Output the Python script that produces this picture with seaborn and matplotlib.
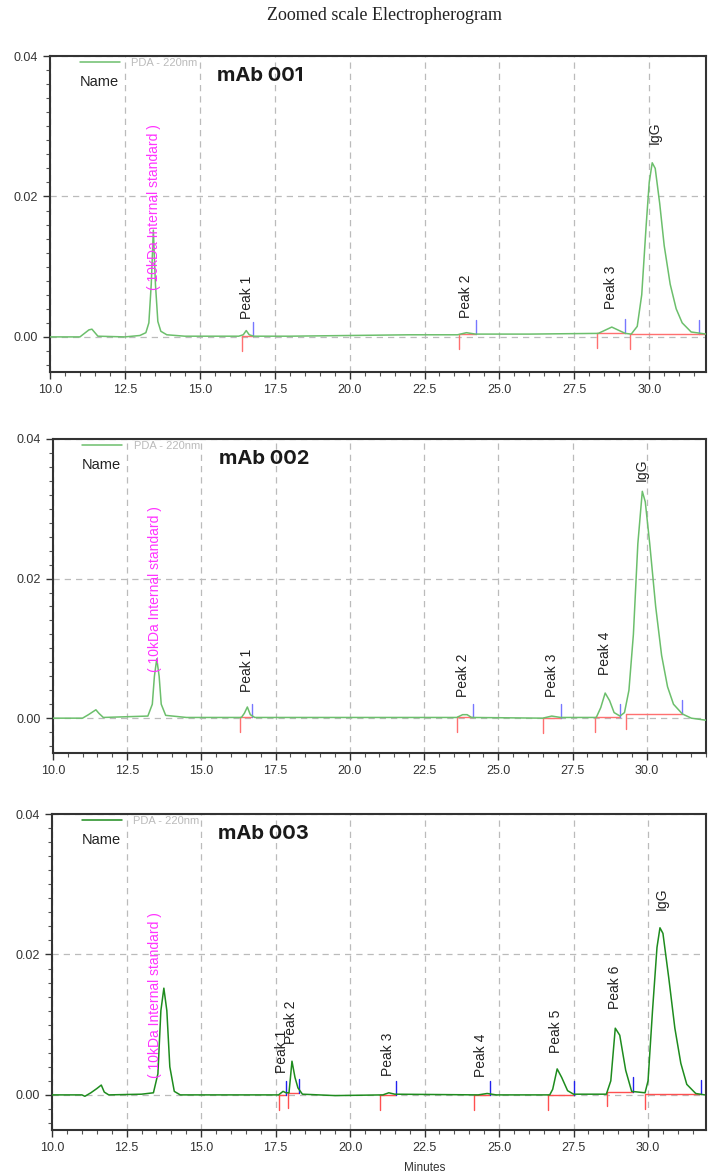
import numpy as np
import seaborn as sns
import matplotlib.pyplot as plt
from matplotlib.ticker import MultipleLocator, FixedLocator

# ---- data (minutes, AU) ----
samples = ["mAb 001", "mAb 002", "mAb 003"]

t_001 = [10.0, 11.0, 11.15, 11.3, 11.4, 11.5, 11.6, 12.5, 13.0, 13.2, 13.3, 13.38, 13.45, 13.52,
         13.6, 13.7, 13.9, 14.5, 16.3, 16.45, 16.55, 16.65, 16.8, 18.0, 20.0, 22.0, 23.6, 23.9,
         24.2, 26.0, 28.3, 28.6, 28.75, 28.9, 29.2, 29.4, 29.6, 29.75, 29.9, 30.0, 30.1, 30.2,
         30.35, 30.5, 30.7, 30.9, 31.1, 31.4, 31.9]
a_001 = [0.0, 0.0, 0.0005, 0.001, 0.0011, 0.0006, 0.0001, 0.0, 0.0002, 0.0006, 0.002, 0.0075,
         0.0152, 0.0075, 0.0022, 0.0008, 0.0003, 0.0001, 0.0001, 0.0003, 0.0009, 0.0003, 0.0001,
         0.0001, 0.0002, 0.0003, 0.0003, 0.0006, 0.0004, 0.0004, 0.0005, 0.0011, 0.0014, 0.0011,
         0.0005, 0.0004, 0.0015, 0.006, 0.016, 0.022, 0.0248, 0.024, 0.019, 0.013, 0.0075, 0.004,
         0.002, 0.0007, 0.0004]

t_002 = [10.0, 11.0, 11.2, 11.45, 11.55, 11.7, 13.2, 13.35, 13.42, 13.5, 13.58, 13.65, 13.8,
         14.5, 16.35, 16.45, 16.55, 16.65, 16.8, 20.0, 23.6, 23.8, 23.95, 24.1, 26.5, 26.8, 27.1,
         28.3, 28.45, 28.6, 28.75, 28.9, 29.1, 29.25, 29.4, 29.55, 29.7, 29.85, 29.95, 30.1,
         30.3, 30.5, 30.7, 30.9, 31.2, 31.5, 32.0]
a_002 = [0.0, 0.0, 0.0005, 0.0012, 0.0007, 0.0001, 0.0003, 0.002, 0.006, 0.0085, 0.006, 0.002,
         0.0004, 0.0001, 0.0001, 0.0007, 0.0016, 0.0005, 0.0001, 0.0001, 0.0001, 0.0005, 0.0005,
         0.0001, 0.0, 0.0003, 0.0001, 0.0001, 0.0015, 0.0036, 0.0025, 0.0008, 0.0003, 0.0008,
         0.004, 0.012, 0.025, 0.0325, 0.031, 0.025, 0.016, 0.009, 0.0045, 0.002, 0.0006, 0.0,
         -0.0003]

t_003 = [10.0, 11.0, 11.1, 11.3, 11.5, 11.65, 11.75, 11.9, 13.0, 13.4, 13.55, 13.65, 13.75,
         13.85, 13.95, 14.1, 14.3, 17.6, 17.75, 17.85, 17.95, 18.05, 18.15, 18.25, 18.4, 19.5,
         21.1, 21.3, 21.5, 24.3, 24.6, 24.9, 26.7, 26.8, 26.95, 27.1, 27.3, 27.5, 28.6, 28.75,
         28.9, 29.05, 29.25, 29.45, 29.9, 30.0, 30.15, 30.3, 30.4, 30.5, 30.7, 30.9, 31.1, 31.3,
         31.6, 31.9]
a_003 = [0.0, 0.0, -0.0002, 0.0003, 0.0009, 0.0014, 0.0004, 0.0, 0.0001, 0.0003, 0.003, 0.012,
         0.0152, 0.012, 0.004, 0.0005, 0.0, 0.0, 0.0005, 0.0003, 0.0003, 0.0048, 0.0025, 0.001,
         0.0001, -0.0001, 0.0, 0.0003, 0.0001, 0.0, 0.0002, 0.0, 0.0, 0.0008, 0.0037, 0.0025,
         0.0006, 0.0001, 0.0001, 0.002, 0.0095, 0.0085, 0.0035, 0.0005, 0.0003, 0.002, 0.012,
         0.021, 0.0238, 0.023, 0.0165, 0.0095, 0.0045, 0.0015, 0.0002, 0.0]

# integration start (red) / end (blue) marks
starts_001 = [16.4, 23.65, 28.25, 29.35]
ends_001 = [16.77, 24.22, 29.2, 31.65]
starts_002 = [16.3, 23.6, 26.5, 28.25, 29.3]
ends_002 = [16.7, 24.15, 27.1, 29.1, 31.2]
starts_003 = [17.6, 17.9, 21.0, 24.15, 26.65, 28.63, 29.9]
ends_003 = [17.86, 18.3, 21.55, 24.7, 27.5, 29.5, 31.77]

# peak labels: name, retention time, label base height
names_001 = ["Peak 1", "Peak 2", "Peak 3", "IgG"]
lab_t_001 = [16.57, 23.9, 28.73, 30.17]
lab_y_001 = [0.0025, 0.0027, 0.004, 0.0275]
names_002 = ["Peak 1", "Peak 2", "Peak 3", "Peak 4", "IgG"]
lab_t_002 = [16.55, 23.8, 26.8, 28.6, 29.83]
lab_y_002 = [0.0037, 0.003, 0.003, 0.0062, 0.034]
names_003 = ["Peak 1", "Peak 2", "Peak 3", "Peak 4", "Peak 5", "Peak 6", "IgG"]
lab_t_003 = [17.73, 18.03, 21.27, 24.4, 26.92, 28.9, 30.45]
lab_y_003 = [0.0031, 0.0072, 0.0027, 0.0025, 0.006, 0.0122, 0.0264]
std_t = [13.47, 13.45, 13.45]
std_y = [0.0067, 0.0066, 0.0024]

traces = [(t_001, a_001), (t_002, a_002), (t_003, a_003)]
starts = [starts_001, starts_002, starts_003]
ends = [ends_001, ends_002, ends_003]
names = [names_001, names_002, names_003]
lab_t = [lab_t_001, lab_t_002, lab_t_003]
lab_y = [lab_y_001, lab_y_002, lab_y_003]

line_col = ["#6cbf6c", "#6cbf6c", "#1e8c1e"]
red_col = ["#ff7070", "#ff7070", "#ff5050"]
blue_col = ["#7777ff", "#7777ff", "#2222ee"]

sns.set_style("white")
plt.rcParams['font.family'] = ['Liberation Sans', 'DejaVu Sans']

fig = plt.figure(figsize=(7.14, 11.75), dpi=100)
boxes = [[0.070, 0.6834, 0.919, 0.2689],
         [0.074, 0.3591, 0.915, 0.2673],
         [0.073, 0.0383, 0.916, 0.2689]]
xmax = [31.9, 32.0, 31.95]

for i in range(3):
    ax = fig.add_axes(boxes[i])
    t, a = traces[i]
    sns.lineplot(x=t, y=a, ax=ax, color=line_col[i], lw=1.1, label="PDA - 220nm", zorder=3)

    # integration baselines and marks
    for s, e in zip(starts[i], ends[i]):
        base = min(np.interp(s, t, a), np.interp(e, t, a))
        ax.plot([s, e], [base, base], color=red_col[i], lw=1.0, zorder=2)
        ax.plot([s, s], [base, base - 0.0021], color=red_col[i], lw=1.0, zorder=2)
        ax.plot([e, e], [base, base + 0.002], color=blue_col[i], lw=1.0, zorder=2)
    if i == 0:
        b_end = min(np.interp(starts_001[-1], t, a), np.interp(ends_001[-1], t, a))
        ax.plot([ends_001[-1], xmax[0]], [b_end, b_end], color=red_col[i], lw=1.0, zorder=2)

    for n, x, y in zip(names[i], lab_t[i], lab_y[i]):
        ax.text(x, y, n, rotation=90, ha="center", va="bottom", fontsize=10, color="#222222")
    ax.text(std_t[i], std_y[i], "( 10kDa Internal standard )", rotation=90, ha="center",
            va="bottom", fontsize=10, color="#ff33ff")

    ax.set_xlim(10.0, xmax[i])
    ax.set_ylim(-0.005, 0.04)
    ax.xaxis.set_major_locator(MultipleLocator(2.5))
    ax.xaxis.set_minor_locator(MultipleLocator(0.5))
    ax.yaxis.set_major_locator(FixedLocator([0.0, 0.02, 0.04]))
    ax.yaxis.set_minor_locator(MultipleLocator(0.002))
    ax.set_xticklabels([f"{v:.1f}" for v in ax.get_xticks()])
    ax.set_yticklabels(["0.00", "0.02", "0.04"])
    ax.tick_params(axis="both", which="major", direction="out", length=5, width=1,
                   labelsize=9, colors="#333333")
    ax.tick_params(axis="both", which="minor", direction="out", length=3, width=0.8,
                   colors="#555555")
    ax.tick_params(bottom=True, left=True, which="both")
    ax.grid(True, which="major", axis="both", color="#bbbbbb", ls=(0, (5, 4)), lw=0.9)
    for sp in ax.spines.values():
        sp.set_color("#333333")
        sp.set_linewidth(1.5)

    ax.legend(loc="upper left", bbox_to_anchor=(0.03, 1.025), frameon=False,
              fontsize=8, handlelength=3.6, handletextpad=1.0, labelcolor="#bbbbbb")
    ax.text(0.045, 0.94, "Name", transform=ax.transAxes, fontsize=10.5, color="#222222",
            va="top")
    ax.text(0.254, 0.965, samples[i], transform=ax.transAxes, fontsize=14.5, color="#1a1a1a",
            va="top", fontweight="bold", family=["Inter", "DejaVu Sans"])

ax.set_xlabel("Minutes", fontsize=8.5, color="#333333")
ax.xaxis.set_label_coords(0.57, -0.1)

fig.text(0.538, 0.987, "Zoomed scale Electropherogram", ha="center", va="center",
         fontsize=13, family=["Liberation Serif"], color="#222222")

plt.savefig("out.png", dpi=100)
